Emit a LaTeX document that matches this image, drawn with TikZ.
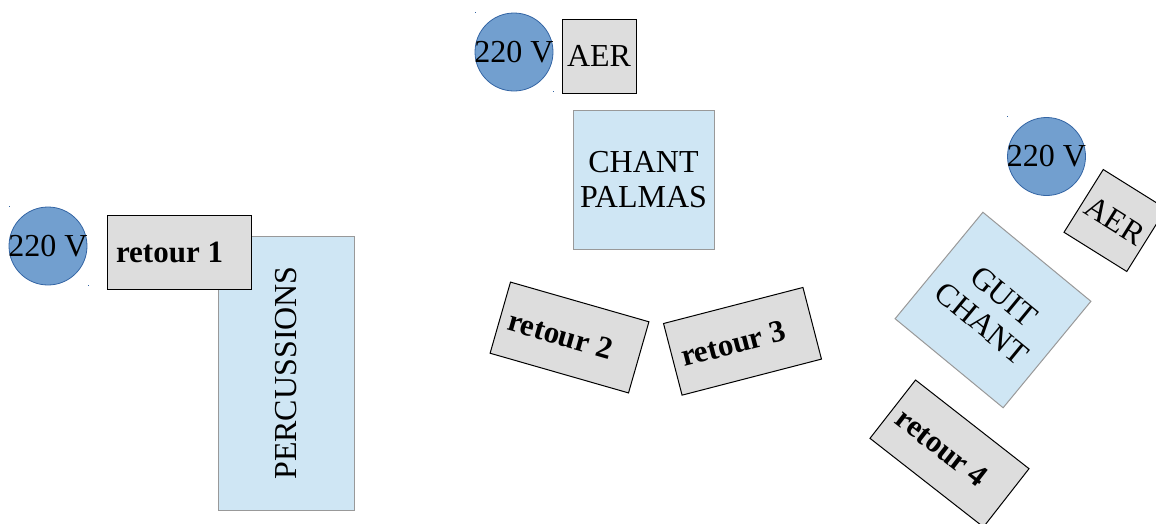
\documentclass[tikz,border=0pt]{standalone}
\usepackage{fontspec}
\setmainfont{Liberation Serif}
\definecolor{voltfill}{HTML}{729FCF}
\definecolor{voltdraw}{HTML}{3465A4}
\definecolor{retfill}{HTML}{DDDDDD}
\definecolor{stagefill}{HTML}{CFE6F4}
\definecolor{stagedraw}{HTML}{999999}
\begin{document}
\begin{tikzpicture}[x=1pt,y=-1pt,
  volt/.style={circle, fill=voltfill, draw=voltdraw, line width=0.8pt, minimum size=78pt, inner sep=0pt},
  volttext/.style={inner sep=0pt, font=\fontsize{32}{35}\selectfont},
  retourbox/.style={rectangle, fill=retfill, draw=black, line width=1pt, minimum width=144pt, minimum height=74pt,
    text width=126pt, align=flush left, inner sep=9pt, font=\bfseries\fontsize{31}{35}\selectfont},
  aerbox/.style={rectangle, fill=retfill, draw=black, line width=1pt, minimum width=74pt, minimum height=74pt,
    inner sep=0pt, font=\fontsize{32}{35}\selectfont},
  stagebox/.style={rectangle, fill=stagefill, draw=stagedraw, line width=1pt, inner sep=0pt,
    align=center, font=\fontsize{32}{35}\selectfont},
  dot/.style={fill=voltdraw}]
\useasboundingbox (0,0) rectangle (1156,523);
\clip (0,0) rectangle (1156,523);

% left group
\node[volt] (v1) at (48,246) {};
\node[volttext] (v1t) at (v1.center) {220 V};
\fill[dot] (9,206) rectangle ++(1.2,1.2);
\fill[dot] (88,285) rectangle ++(1.2,1.2);
\node[stagebox, rotate=90, minimum width=274pt, minimum height=136pt] (perc) at (286,373) {PERCUSSIONS};
\node[retourbox] (r1) at (179,252) {retour 1};

% middle group
\node[volt] (v2) at (514,52) {};
\node[volttext] (v2t) at (v2.center) {220 V};
\fill[dot] (475,12) rectangle ++(1.2,1.2);
\fill[dot] (553,91) rectangle ++(1.2,1.2);
\node[aerbox] (aer1) at (599,56) {AER};
\node[stagebox, minimum width=141pt, minimum height=139pt] (chant) at (643.5,179.5) {CHANT\\PALMAS};
\node[retourbox, rotate=-16] (r2) at (569.5,337.5) {retour 2};
\node[retourbox, rotate=14.5] (r3) at (742.5,341.3) {retour 3};

% right group
\node[volt] (v3) at (1046.5,156.5) {};
\node[volttext] (v3t) at (v3.center) {220 V};
\fill[dot] (1007,116) rectangle ++(1.2,1.2);
\node[aerbox, rotate=-32] (aer2) at (1115,220.5) {AER};
\node[stagebox, rotate=-39.5, minimum width=140pt, minimum height=138pt] (guit) at (993,310) {GUIT\\CHANT};
\node[retourbox, rotate=-38] (r4) at (949.5,453.5) {retour 4};
\end{tikzpicture}
\end{document}
